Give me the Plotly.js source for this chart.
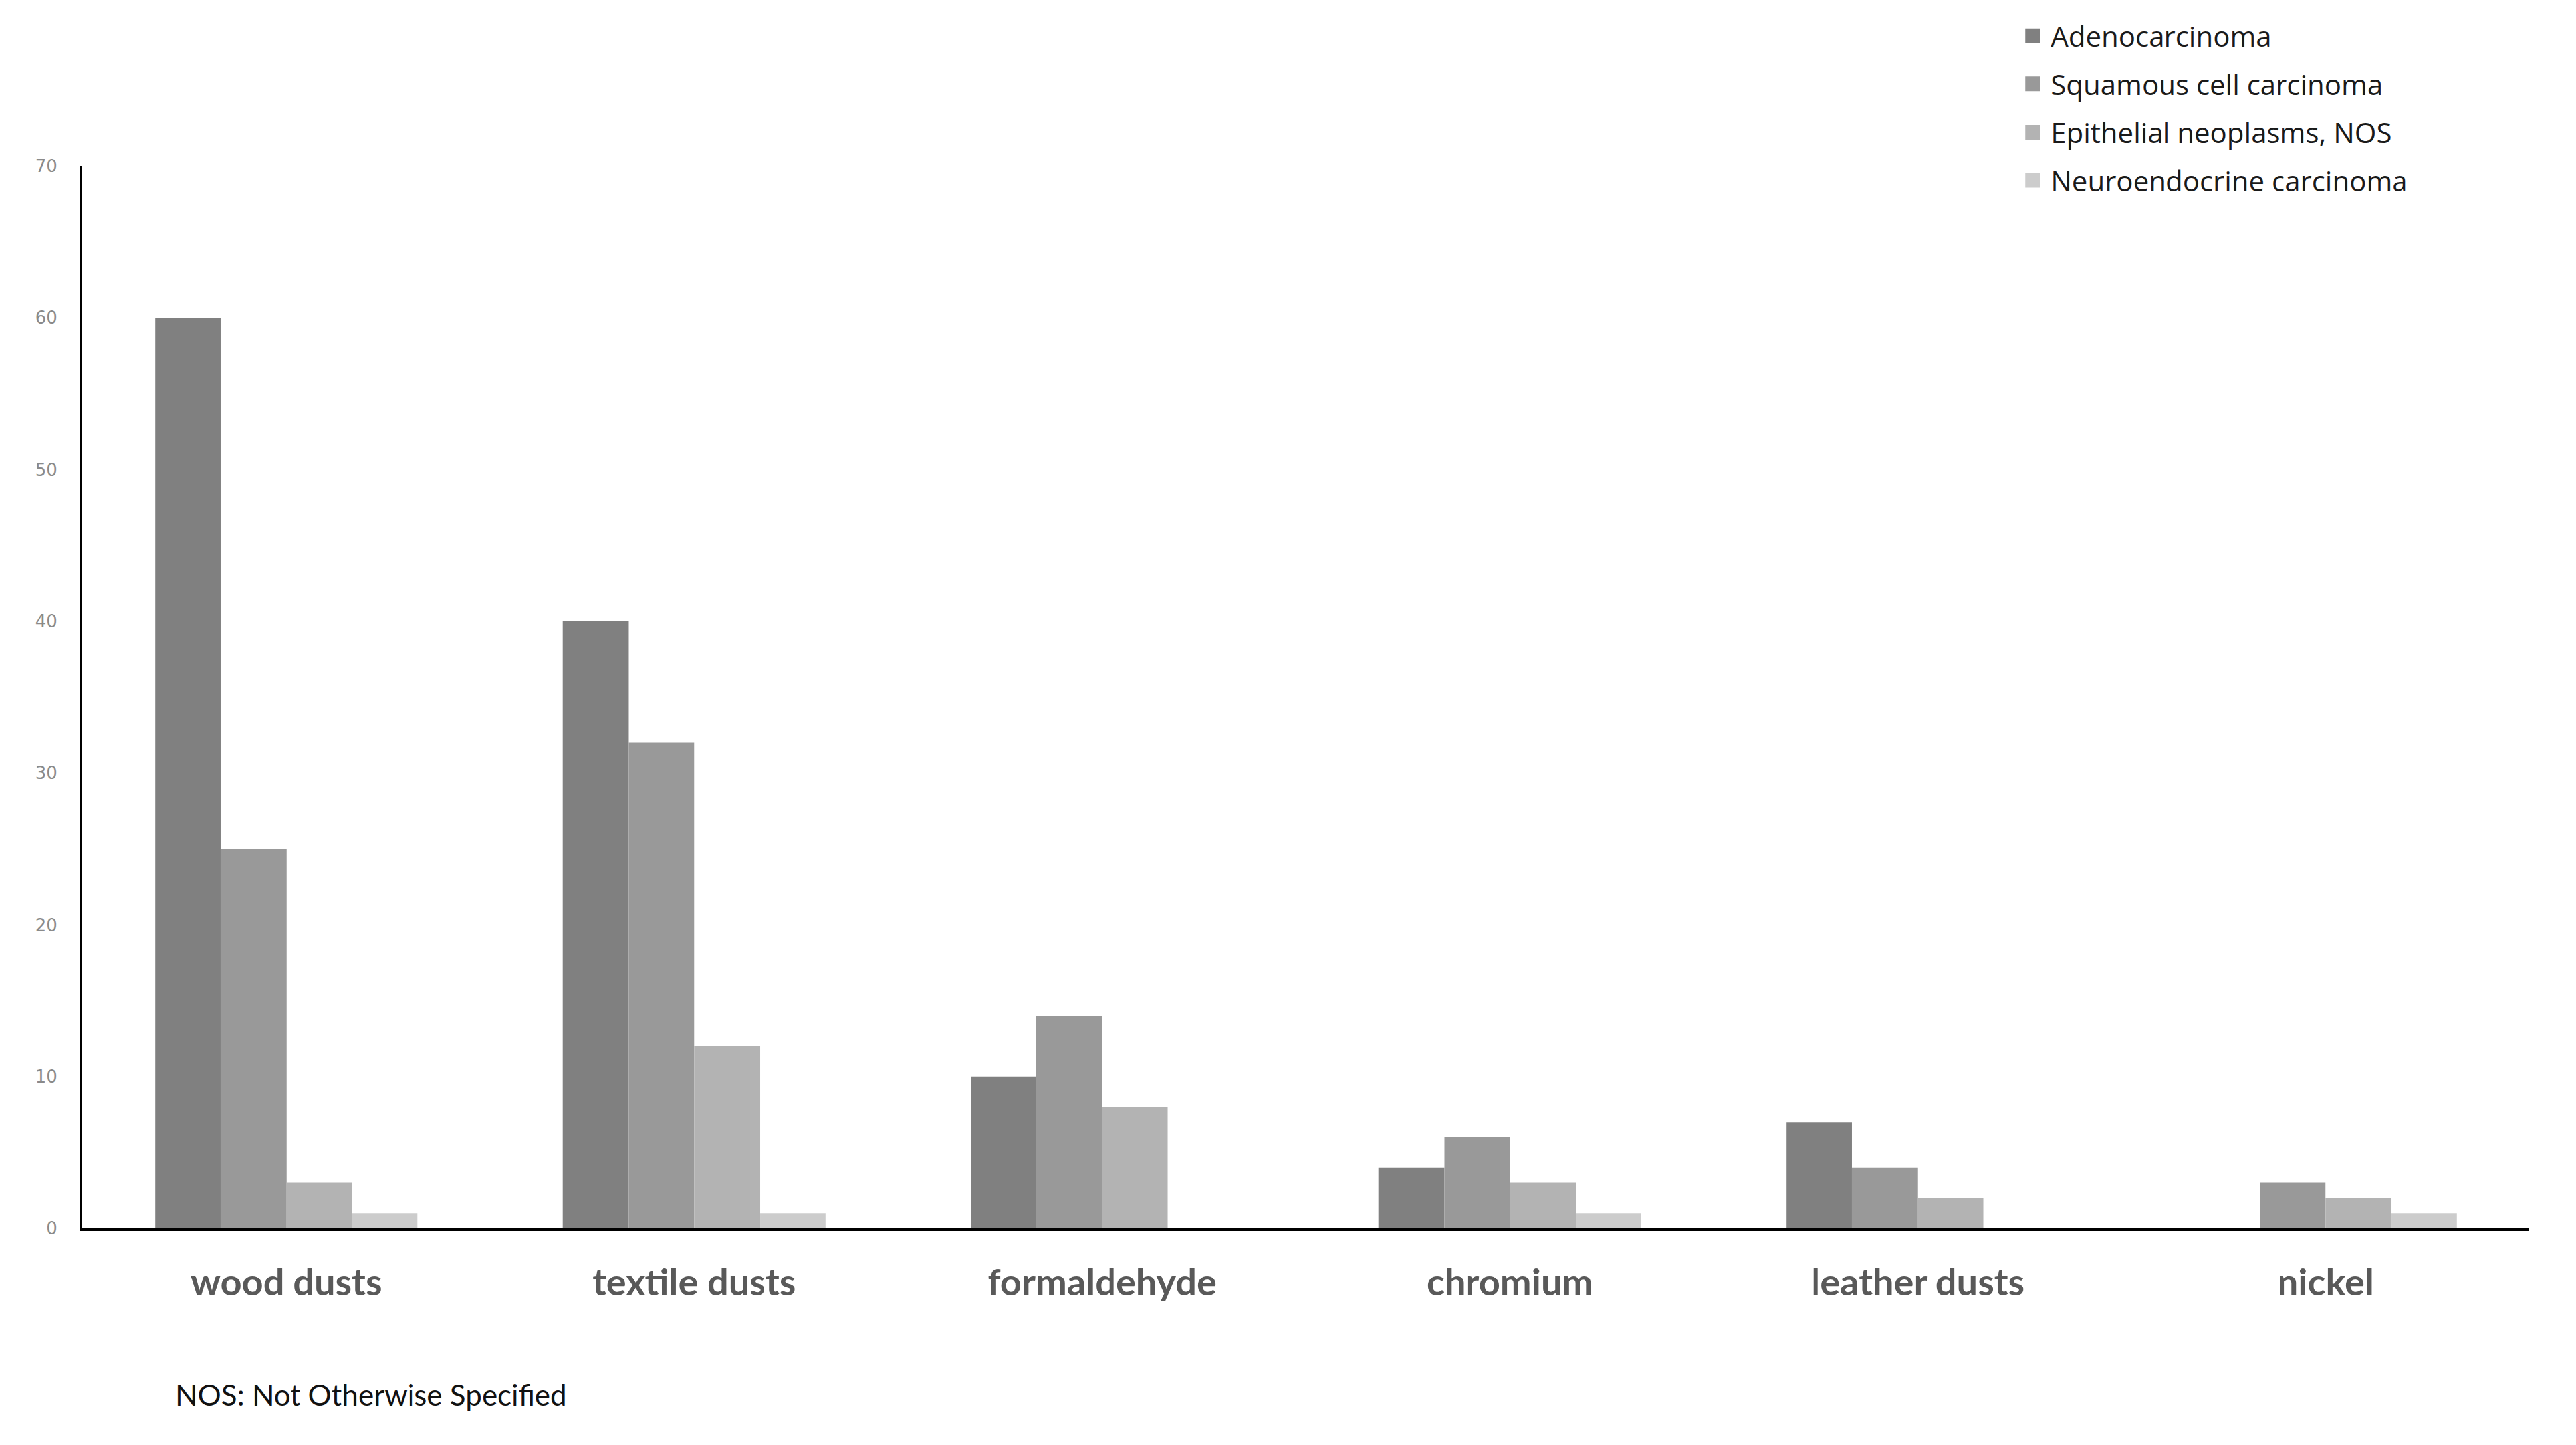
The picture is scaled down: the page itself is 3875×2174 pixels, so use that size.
<!DOCTYPE html>
<html>
<head>
<meta charset="utf-8">
<script src="https://cdn.plot.ly/plotly-3.0.1.min.js"></script>
<style>html,body{margin:0;padding:0;background:#fff;}#chart{width:3875px;height:2174px;}</style>
</head>
<body>
<div id="chart"></div>
<script>
const categories = ["wood dusts", "textile dusts", "formaldehyde", "chromium", "leather dusts", "nickel"];
const seriesNames = ["Adenocarcinoma", "Squamous cell carcinoma", "Epithelial neoplasms, NOS", "Neuroendocrine carcinoma"];
const adenocarcinoma = [60, 40, 10, 4, 7, null];
const squamous = [25, 32, 14, 6, 4, 3];
const epithelial = [3, 12, 8, 3, 2, 2];
const neuroendocrine = [1, 1, null, 1, null, 1];
const yTicks = [0, 10, 20, 30, 40, 50, 60, 70];
const footnote = "NOS: Not Otherwise Specified";

const colors = ["#808080", "#999999", "#b3b3b3", "#cccccc"];
const values = [adenocarcinoma, squamous, epithelial, neuroendocrine];

const traces = values.map((v, i) => ({
  type: "bar",
  name: seriesNames[i],
  x: categories,
  y: v,
  marker: {color: colors[i], line: {width: 0}},
  legendgroup: "g" + i,
  hoverinfo: "x+y+name"
}));

const layout = {
  width: 3875,
  height: 2174,
  paper_bgcolor: "#ffffff",
  plot_bgcolor: "#ffffff",
  margin: {l: 124, r: 70, t: 250, b: 326},
  barmode: "group",
  bargap: 0.356,
  bargroupgap: 0,
  showlegend: true,
  legend: {
    x: 0.7936, xanchor: "left",
    y: 1.144, yanchor: "top",
    yref: "paper",
    traceorder: "grouped",
    tracegroupgap: 15,
    font: {family: "Open Sans, sans-serif", size: 42, color: "#1a1a1a"},
    bgcolor: "rgba(0,0,0,0)"
  },
  xaxis: {
    type: "category",
    showline: true, linecolor: "#000000", linewidth: 4,
    ticks: "", showgrid: false, zeroline: false,
    tickfont: {family: "Lato, sans-serif", size: 56, color: "#595959", weight: "bold"},
    ticklabelstandoff: 30
  },
  yaxis: {
    range: [0, 70],
    tickvals: yTicks,
    ticktext: yTicks.map(String),
    showline: true, linecolor: "#000000", linewidth: 3,
    ticks: "", showgrid: false, zeroline: false,
    tickfont: {family: "DejaVu Sans, sans-serif", size: 26, color: "#8a8a8a"},
    ticklabelstandoff: 30
  },
  annotations: [{
    text: footnote,
    xref: "paper", yref: "paper",
    x: (262 - 124) / 3681, y: -(2098 - 1848) / 1598,
    xanchor: "left", yanchor: "middle",
    showarrow: false,
    font: {family: "Lato, sans-serif", size: 44, color: "#111111"}
  }]
};

Plotly.newPlot("chart", traces, layout, {displayModeBar: false, staticPlot: true}).then(() => {
  document.querySelectorAll("#chart .legend .legendpoints path").forEach(p => {
    p.setAttribute("d", "M3,11H-19V-11H3Z");
  });
});
</script>
</body>
</html>
